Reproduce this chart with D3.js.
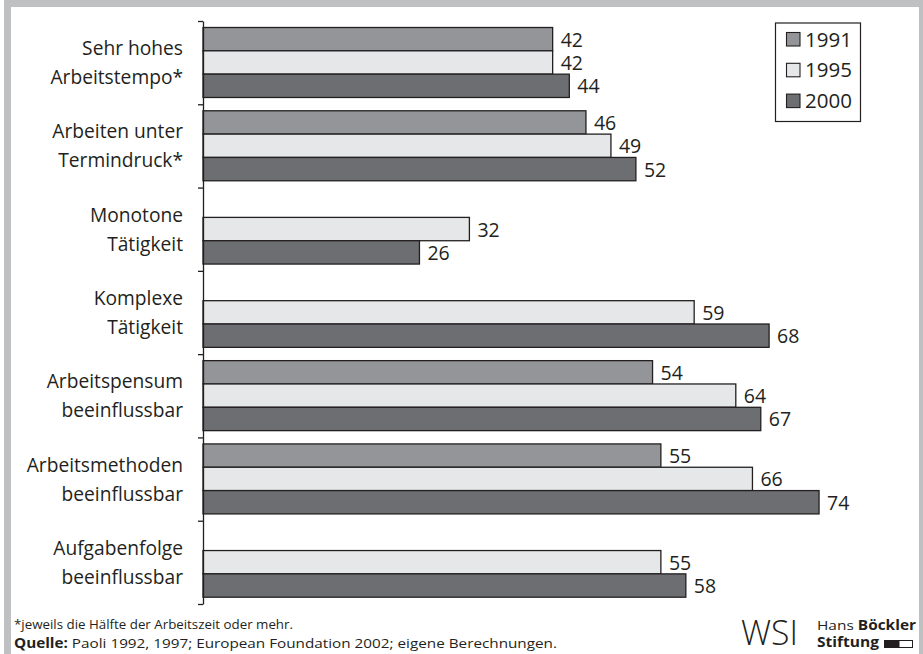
<!DOCTYPE html>
<html>
<head>
<meta charset="utf-8">
<script src="https://cdn.jsdelivr.net/npm/d3@7"></script>
<style>
  html, body { margin: 0; padding: 0; background: #fff; }
  svg { display: block; font-family: "Open Sans", "DejaVu Sans", sans-serif; }
</style>
</head>
<body>
<svg id="chart" width="923" height="654"></svg>
<script>
const categories = [
  ["Sehr hohes", "Arbeitstempo*"],
  ["Arbeiten unter", "Termindruck*"],
  ["Monotone", "Tätigkeit"],
  ["Komplexe", "Tätigkeit"],
  ["Arbeitspensum", "beeinflussbar"],
  ["Arbeitsmethoden", "beeinflussbar"],
  ["Aufgabenfolge", "beeinflussbar"]
];
const seriesNames = ["1991", "1995", "2000"];
const values1991 = [42, 46, null, null, 54, 55, null];
const values1995 = [42, 49, 32, 59, 64, 66, 55];
const values2000 = [44, 52, 26, 68, 67, 74, 58];
const seriesColors = ["#939598", "#e6e7e8", "#6d6e71"];
const footnote = "*jeweils die Hälfte der Arbeitszeit oder mehr.";
const sourceLabel = "Quelle:";
const sourceText = " Paoli 1992, 1997; European Foundation 2002; eigene Berechnungen.";

const seriesValues = [values1991, values1995, values2000];
const svg = d3.select("#chart");

// frame
svg.append("rect").attr("x", 4).attr("y", 0).attr("width", 919).attr("height", 654).attr("fill", "#bfc0c2");
svg.append("rect").attr("x", 11).attr("y", 7).attr("width", 908).attr("height", 647).attr("fill", "#fff");

const x = d3.scaleLinear().domain([0, 80]).range([203, 869]);
const yIdx = d3.scaleLinear().domain([0, categories.length]).range([21, 604]);
const bandH = yIdx(1) - yIdx(0);
const sub = d3.scaleBand().domain(seriesNames).range([6.5, bandH - 6.8]);

const g = svg.append("g");

// bars
seriesNames.forEach((s, si) => {
  const data = seriesValues[si].map((v, i) => ({v, i})).filter(d => d.v !== null);
  g.selectAll(".bar" + s).data(data).enter().append("rect")
    .attr("x", x(0))
    .attr("y", d => yIdx(d.i) + sub(s))
    .attr("width", d => x(d.v) - x(0))
    .attr("height", sub.bandwidth())
    .attr("fill", seriesColors[si])
    .attr("stroke", "#231f20")
    .attr("stroke-width", 1.3);
  g.selectAll(".lab" + s).data(data).enter().append("text")
    .attr("x", d => x(d.v) + 8)
    .attr("y", d => yIdx(d.i) + sub(s) + sub.bandwidth() / 2 + 7.5)
    .attr("font-size", 19.5)
    .attr("fill", "#231f20")
    .text(d => d.v);
});

// axis
const axis = d3.axisLeft(yIdx).tickValues(d3.range(categories.length + 1)).tickSize(5).tickSizeOuter(0).tickFormat("");
const ag = svg.append("g").attr("transform", `translate(${x(0)},0)`).call(axis);
ag.select(".domain").attr("stroke", "#231f20").attr("stroke-width", 1.3);
ag.selectAll(".tick line").attr("stroke", "#231f20").attr("stroke-width", 1.3);

// category labels
categories.forEach((lines, i) => {
  const cy = yIdx(i) + bandH / 2;
  svg.append("text").attr("x", 183).attr("y", cy - 7.5).attr("text-anchor", "end")
    .attr("font-size", 19.2).attr("fill", "#231f20").text(lines[0]);
  svg.append("text").attr("x", 183).attr("y", cy + 21.5).attr("text-anchor", "end")
    .attr("font-size", 19.2).attr("fill", "#231f20").text(lines[1]);
});

// legend
const lg = svg.append("g");
lg.append("rect").attr("x", 775.5).attr("y", 23).attr("width", 85).attr("height", 98.5)
  .attr("fill", "#fff").attr("stroke", "#231f20").attr("stroke-width", 1.2);
seriesNames.forEach((s, si) => {
  const ty = 32.5 + si * 30.8;
  lg.append("rect").attr("x", 786.5).attr("y", ty).attr("width", 13.5).attr("height", 13.5)
    .attr("fill", seriesColors[si]).attr("stroke", "#231f20").attr("stroke-width", 1.1);
  lg.append("text").attr("x", 805).attr("y", ty + 14).attr("font-size", 20.5)
    .attr("fill", "#231f20").text(s);
});

// footer
svg.append("text").attr("x", 14).attr("y", 629).attr("font-size", 13.5).attr("fill", "#231f20")
  .attr("textLength", 279).attr("lengthAdjust", "spacingAndGlyphs").text(footnote);
const src = svg.append("text").attr("x", 14).attr("y", 648).attr("font-size", 13.5).attr("fill", "#231f20")
  .attr("textLength", 543).attr("lengthAdjust", "spacingAndGlyphs");
src.append("tspan").attr("font-weight", "bold").text(sourceLabel);
src.append("tspan").text(sourceText);

// logos
svg.append("text").attr("x", 741).attr("y", 645).attr("font-size", 34).attr("font-weight", 300)
  .attr("fill", "#231f20").attr("textLength", 57).attr("lengthAdjust", "spacingAndGlyphs").text("WSI");
const hb = svg.append("text").attr("x", 817).attr("y", 630).attr("font-size", 13.5).attr("fill", "#231f20")
  .attr("textLength", 99).attr("lengthAdjust", "spacingAndGlyphs");
hb.append("tspan").text("Hans ");
hb.append("tspan").attr("font-weight", "bold").text("Böckler");
svg.append("text").attr("x", 817).attr("y", 647).attr("font-size", 14).attr("font-weight", "bold")
  .attr("fill", "#231f20").attr("textLength", 62).attr("lengthAdjust", "spacingAndGlyphs").text("Stiftung");
svg.append("rect").attr("x", 884).attr("y", 640).attr("width", 15).attr("height", 8).attr("fill", "#231f20");
svg.append("rect").attr("x", 899).attr("y", 640.5).attr("width", 13.5).attr("height", 7).attr("fill", "#fff")
  .attr("stroke", "#231f20").attr("stroke-width", 1);
</script>
</body>
</html>
